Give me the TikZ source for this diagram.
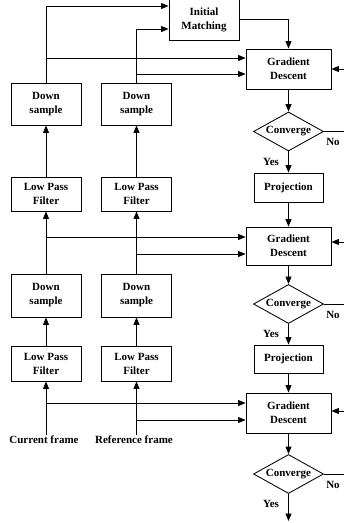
\documentclass[tikz,border=0pt]{standalone}
\usepackage{fontspec}
\setmainfont{Liberation Serif}
\usetikzlibrary{arrows.meta,shapes.geometric}
\begin{document}
\begin{tikzpicture}[x=1pt,y=-1pt,
  every node/.style={font=\bfseries\fontsize{11}{14}\selectfont, align=center},
  box/.style={draw, line width=0.85pt, inner sep=1pt},
  dia/.style={draw, line width=0.85pt, diamond, aspect=1.8, inner sep=0pt, minimum width=70pt, minimum height=39pt},
  arr/.style={line width=0.85pt, -{Triangle[length=7.5pt,width=6pt]}},
  ln/.style={line width=0.85pt},
  lbl/.style={inner sep=1pt}
]
\useasboundingbox (0,0) rectangle (344,523);
\clip (0,0) rectangle (344,523);
% right column
\node[box, minimum width=70pt, minimum height=42pt] (IM) at (204,19.5) {Initial\\Matching};
\node[box, minimum width=85pt, minimum height=40pt] (GD1) at (288.5,69) {Gradient\\Descent};
\node[dia] (D1) at (288.5,131.5) {Converge};
\node[box, minimum width=69pt, minimum height=29pt] (P1) at (288.5,187.5) {Projection};
\node[box, minimum width=85pt, minimum height=38pt] (GD2) at (288.5,246) {Gradient\\Descent};
\node[dia] (D2) at (288.5,304) {Converge};
\node[box, minimum width=69pt, minimum height=28pt] (P2) at (288.5,359) {Projection};
\node[box, minimum width=85pt, minimum height=40pt] (GD3) at (288.5,413) {Gradient\\Descent};
\node[dia] (D3) at (288.5,474) {Converge};
% left columns
\node[box, minimum width=70pt, minimum height=42pt] (DS1L) at (46,104) {Down\\sample};
\node[box, minimum width=70pt, minimum height=42pt] (DS1R) at (136.5,104) {Down\\sample};
\node[box, minimum width=70pt, minimum height=34pt] (LP1L) at (46,194) {Low Pass\\Filter};
\node[box, minimum width=70pt, minimum height=34pt] (LP1R) at (136.5,194) {Low Pass\\Filter};
\node[box, minimum width=70pt, minimum height=43pt] (DS2L) at (46,295.5) {Down\\sample};
\node[box, minimum width=70pt, minimum height=43pt] (DS2R) at (136.5,295.5) {Down\\sample};
\node[box, minimum width=70pt, minimum height=35pt] (LP2L) at (46,363.5) {Low Pass\\Filter};
\node[box, minimum width=70pt, minimum height=35pt] (LP2R) at (136.5,363.5) {Low Pass\\Filter};
\node[lbl] (CF) at (44,440) {Current frame};
\node[lbl] (RF) at (134,440) {Reference frame};
% labels
\node[lbl] at (271,162) {Yes};
\node[lbl] at (271,334) {Yes};
\node[lbl] at (271,504) {Yes};
\node[lbl] at (333,142) {No};
\node[lbl] at (333,315) {No};
\node[lbl] at (333,485) {No};
% free ends at the right edge
\coordinate (N1) at (344,131.5);
\coordinate (N2) at (344,304);
\coordinate (N3) at (344,474);
\coordinate (R1) at (344,69);
\coordinate (R2) at (344,242);
\coordinate (R3) at (344,411);
\coordinate (E3) at (288.5,521);
% main column connectors
\draw[arr] (IM.east) -| (GD1.north);
\draw[arr] (GD1.south) -- (D1.north);
\draw[arr] (D1.south) -- (P1.north);
\draw[arr] (P1.south) -- (GD2.north);
\draw[arr] (GD2.south) -- (D2.north);
\draw[arr] (D2.south) -- (P2.north);
\draw[arr] (P2.south) -- (GD3.north);
\draw[arr] (GD3.south) -- (D3.north);
\draw[arr] (D3.south) -- (E3);
\draw[ln] (D1.east) -- (N1);
\draw[ln] (D2.east) -- (N2);
\draw[ln] (D3.east) -- (N3);
\draw[arr] (R1) -- (GD1.east);
\draw[arr] (R2) -- ([yshift=4pt]GD2.east);
\draw[arr] (R3) -- ([yshift=2pt]GD3.east);
% pyramid connectors
\draw[arr] (DS1L.north) |- ([yshift=13.5pt]IM.west);
\draw[arr] (DS1R.north) |- ([yshift=-9.5pt]IM.west);
\draw[arr] ([yshift=11pt]GD1.west -| DS1L.north) -- ([yshift=11pt]GD1.west);
\draw[arr] ([yshift=-5pt]GD1.west -| DS1R.north) -- ([yshift=-5pt]GD1.west);
\draw[arr] (LP1L.north) -- (DS1L.south);
\draw[arr] (LP1R.north) -- (DS1R.south);
\draw[arr] (DS2L.north) -- (LP1L.south);
\draw[arr] (DS2R.north) -- (LP1R.south);
\draw[arr] ([yshift=9pt]GD2.west -| DS2L.north) -- ([yshift=9pt]GD2.west);
\draw[arr] ([yshift=-8pt]GD2.west -| DS2R.north) -- ([yshift=-8pt]GD2.west);
\draw[arr] (LP2L.north) -- (DS2L.south);
\draw[arr] (LP2R.north) -- (DS2R.south);
\draw[arr] (CF.north -| LP2L.south) -- (LP2L.south);
\draw[arr] (RF.north -| LP2R.south) -- (LP2R.south);
\draw[arr] ([yshift=10pt]GD3.west -| LP2L.south) -- ([yshift=10pt]GD3.west);
\draw[arr] ([yshift=-7pt]GD3.west -| LP2R.south) -- ([yshift=-7pt]GD3.west);
\end{tikzpicture}
\end{document}
